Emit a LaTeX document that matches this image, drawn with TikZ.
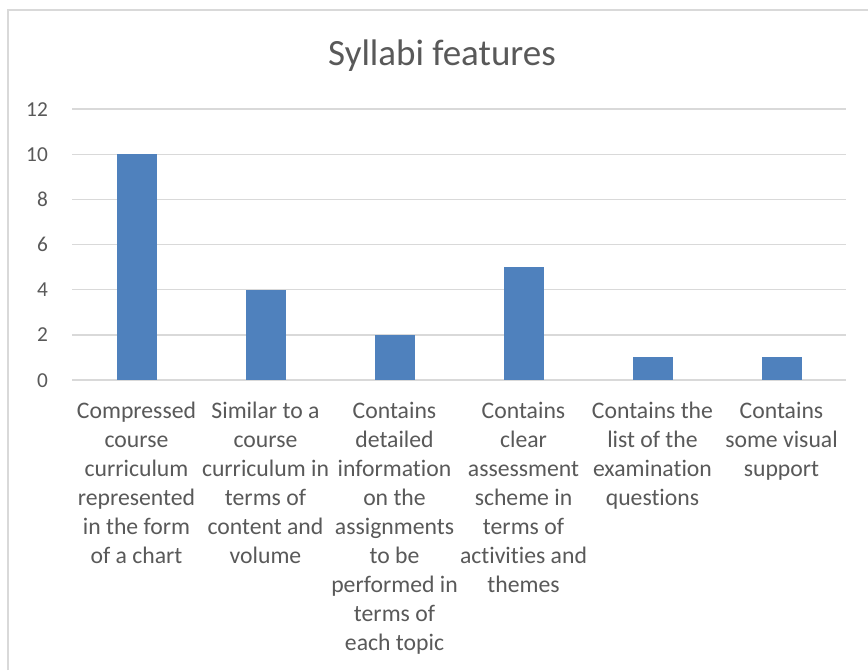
\documentclass[tikz,border=0pt]{standalone}
\usepackage{fontspec}
\setmainfont{Carlito}[Ligatures={NoCommon,NoContextual},RawFeature={-liga;-clig;-dlig}]
\definecolor{barblue}{HTML}{4F81BD}
\definecolor{gridgray}{HTML}{D9D9D9}
\definecolor{txtgray}{HTML}{595959}
\begin{document}
\begin{tikzpicture}[x=1pt,y=-1pt,
  gridline/.style={draw=gridgray,line width=1.4pt},
  framebox/.style={draw=gridgray,line width=1.2pt},
  bar/.style={fill=barblue,draw=none},
  ticklbl/.style={anchor=base east,inner sep=0pt,text=txtgray,font=\fontsize{21.3}{25}\selectfont},
  catlbl/.style={anchor=north,inner sep=0pt,align=center,text=txtgray,font=\fontsize{23.7}{29}\selectfont},
  titlelbl/.style={anchor=base,inner sep=0pt,text=txtgray,font=\fontsize{37}{44}\selectfont}]
\useasboundingbox (0,0) rectangle (868,670);
\fill[white] (0,0) rectangle (868,670);
% frame (only left and top edges visible)
\draw[framebox] (8,670) -- (8,10) -- (868,10);
% title
\node[titlelbl] (title) at (442,65.5) {Syllabi features};
% gridlines and tick labels
\foreach \v in {0,2,...,12}{
  \pgfmathsetmacro{\yy}{380-22.58*\v}
  \draw[gridline] (72,\yy) -- (846,\yy);
  \node[ticklbl] (tick\v) at (48,\yy+7) {\v};
}
% bars
\foreach \i/\val in {1/10,2/4,3/2,4/5,5/1,6/1}{
  \pgfmathsetmacro{\cx}{72+129*(\i-0.5)}
  \pgfmathsetmacro{\yt}{380-22.58*\val}
  \path[bar] (\cx-20,380) rectangle (\cx+20,\yt);
  \coordinate (c\i) at (\cx,400.5);
}
% category labels
\node[catlbl] (l1) at (c1) {\rule{0pt}{0.75em}Compressed\\course\\curriculum\\represented\\in the form\\of a chart};
\node[catlbl] (l2) at (c2) {\rule{0pt}{0.75em}Similar to a\\course\\curriculum in\\terms of\\content and\\volume};
\node[catlbl] (l3) at (c3) {\rule{0pt}{0.75em}Contains\\detailed\\information\\on the\\assignments\\to be\\performed in\\terms of\\each topic};
\node[catlbl] (l4) at (c4) {\rule{0pt}{0.75em}Contains\\clear\\assessment\\scheme in\\terms of\\activities and\\themes};
\node[catlbl] (l5) at (c5) {\rule{0pt}{0.75em}Contains the\\list of the\\examination\\questions};
\node[catlbl] (l6) at (c6) {\rule{0pt}{0.75em}Contains\\some visual\\support};
\end{tikzpicture}
\end{document}
